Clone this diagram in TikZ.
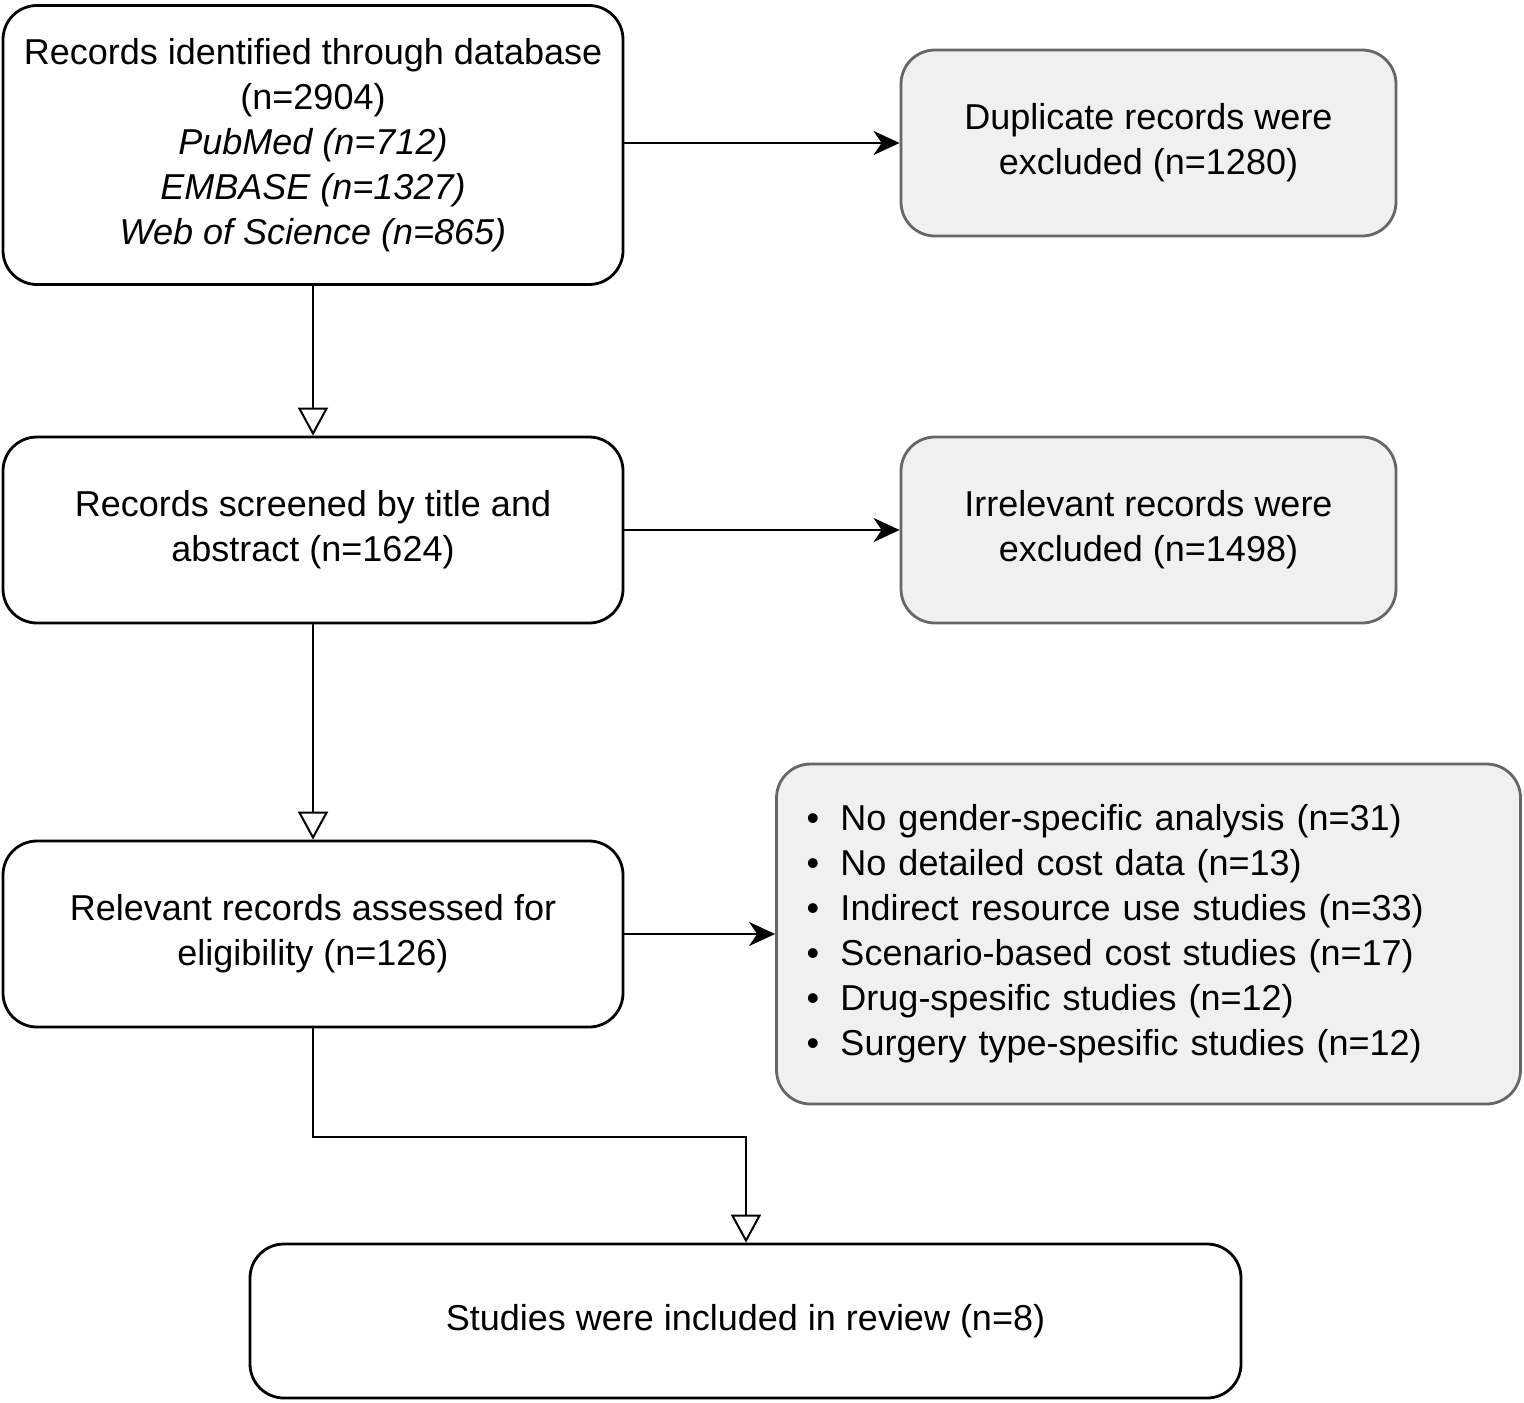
\documentclass[tikz,border=0pt]{standalone}
\usepackage{fontspec}
\setmainfont{Liberation Sans}
\usetikzlibrary{arrows.meta}
\begin{document}
\begin{tikzpicture}[x=0.5pt,y=-0.5pt,
  box/.style={draw=black,line width=1.4pt,rounded corners=17pt,align=center,font=\fontsize{18}{22.5}\selectfont},
  gbox/.style={box,draw=black!60,fill=black!6},
  openarr/.style={line width=1pt,-{Triangle[open,length=14pt,width=15pt,line width=1pt]}},
  fillarr/.style={line width=1pt,-{Stealth[length=13pt,width=12pt,inset=4pt]}}]
\useasboundingbox (0,0) rectangle (1524,1402);
\node[box,minimum width=310pt,minimum height=139.5pt] (a) at (313,145) {Records identified through database\\(n=2904)\\\textit{PubMed (n=712)}\\\textit{EMBASE (n=1327)}\\\textit{Web of Science (n=865)}};
\node[gbox,minimum width=247.5pt,minimum height=93pt] (b) at (1148.5,143) {Duplicate records were\\excluded (n=1280)};
\node[box,minimum width=310pt,minimum height=93pt] (c) at (313,530) {Records screened by title and\\abstract (n=1624)};
\node[gbox,minimum width=247.5pt,minimum height=93pt] (d) at (1148.5,530) {Irrelevant records were\\excluded (n=1498)};
\node[box,minimum width=310pt,minimum height=93pt] (e) at (313,934) {Relevant records assessed for\\eligibility (n=126)};
\node[gbox,minimum height=170pt,text width=342pt,inner xsep=15pt,align=left] (f) at (1148.5,934) {%
\makebox[17pt][l]{•}No gender-specific analysis (n=31)\\
\makebox[17pt][l]{•}No detailed cost data (n=13)\\
\makebox[17pt][l]{•}Indirect resource use studies (n=33)\\
\makebox[17pt][l]{•}Scenario-based cost studies (n=17)\\
\makebox[17pt][l]{•}Drug-spesific studies (n=12)\\
\makebox[17pt][l]{•}Surgery type-spesific studies (n=12)};
\node[box,minimum width=495.5pt,minimum height=77pt] (g) at (745.5,1321) {Studies were included in review (n=8)};
\coordinate (k1) at (313,1137);
\coordinate (k2) at (746,1137);
\draw[openarr] (a.south) -- (c.north);
\draw[openarr] (c.south) -- (e.north);
\draw[openarr] (e.south) -- (k1) -- (k2) -- (g.north -| k2);
\draw[fillarr] (a.east |- b) -- (b.west);
\draw[fillarr] (c.east) -- (d.west);
\draw[fillarr] (e.east) -- (f.west |- e.east);
\end{tikzpicture}
\end{document}
